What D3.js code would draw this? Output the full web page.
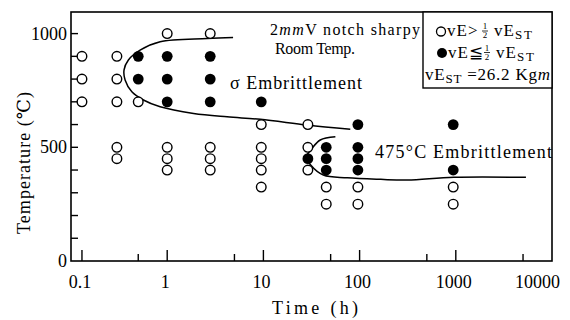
<!DOCTYPE html>
<html><head><meta charset="utf-8">
<script src="https://cdn.jsdelivr.net/npm/d3@7"></script>
<style>
body{margin:0;background:#fff}
svg text{font-family:'Liberation Serif','Times New Roman',Tinos,'DejaVu Serif',serif;fill:#000}
</style>
</head><body>
<svg id="c" width="570" height="320" font-family="Liberation Serif, Times New Roman, serif"></svg>
<script>
// ---- data ----
const xMajorTicks = [0.13, 1, 10, 100, 1000];
const xMinorTicks = [0.5, 5, 50, 500, 5000];
const xTickLabels = [
  {v:0.13, t:"0.1"}, {v:1, t:"1"}, {v:10, t:"10"},
  {v:100, t:"100"}, {v:1000, t:"1000"}, {v:10000, t:"10000"}
];
const yTicks = [100,200,300,400,500,600,700,800,900,1000];
const yTickLabels = [0, 500, 1000];

// open circles: vE > 1/2 vEST   [time h, temperature C]
const openPoints = [
  [0.13,900],[0.13,800],[0.13,700],
  [0.3,900],[0.3,800],[0.3,700],[0.3,500],[0.3,450],
  [0.5,700],
  [1,1000],[1,500],[1,450],[1,400],
  [2.8,1000],[2.8,500],[2.8,450],[2.8,400],
  [9.5,600],[9.5,500],[9.5,450],[9.5,400],[9.5,325],
  [29,600],[29,500],[29,400],
  [45,325],[45,250],
  [96,325],[96,250],
  [940,325],[940,250]
];
// filled circles: vE <= 1/2 vEST
const filledPoints = [
  [0.5,900],[0.5,800],
  [1,900],[1,800],[1,700],
  [2.8,900],[2.8,800],[2.8,700],
  [9.5,700],
  [29,450],
  [45,500],[45,450],[45,400],
  [96,600],[96,500],[96,450],[96,400],
  [940,600],[940,400]
];
// sigma embrittlement boundary
const sigmaCurve = [
  [4.84,983],[2.61,978],[0.845,964],[0.523,927],[0.395,884],[0.356,840],
  [0.365,796],[0.429,744],[0.566,708],[0.845,678],[1.88,649],[4.19,634],
  [9.3,623],[28.5,598],[80,579]
];
// 475C embrittlement boundary
const curve475 = [
  [56,546],[39,532],[32,495],[28,457],[31,422],[42,378],[74.5,366],
  [166,359],[314,356],[953,368],[5360,368]
];

// ---- drawing ----
const svg = d3.select("#c");
const L = 71, R = 552, T = 12, B = 261;
const x = d3.scaleLog().domain([0.1, 10000]).range([L, R]);
const y = d3.scaleLinear().domain([0, 1095]).range([B, T]);

// frame
svg.append("rect").attr("x", L).attr("y", T).attr("width", R - L).attr("height", B - T)
  .attr("fill", "none").attr("stroke", "#000").attr("stroke-width", 1.6);

// x ticks (drawn upward into the plot)
svg.selectAll(".xmaj").data(xMajorTicks).enter().append("line")
  .attr("x1", d => x(d)).attr("x2", d => x(d)).attr("y1", B).attr("y2", B - 11)
  .attr("stroke", "#000").attr("stroke-width", 1.4);
svg.selectAll(".xmin").data(xMinorTicks).enter().append("line")
  .attr("x1", d => x(d)).attr("x2", d => x(d)).attr("y1", B).attr("y2", B - 7)
  .attr("stroke", "#000").attr("stroke-width", 1.4);
svg.selectAll(".xl").data(xTickLabels).enter().append("text")
  .attr("x", d => d.v === 10000 ? x(d.v) + 8 : x(d.v) - 2)
  .attr("y", 288).attr("font-size", 18)
  .attr("text-anchor", d => d.v === 10000 ? "end" : "middle")
  .text(d => d.t);

// y ticks (inward)
svg.selectAll(".yt").data(yTicks).enter().append("line")
  .attr("x1", L).attr("x2", L + 7).attr("y1", d => y(d)).attr("y2", d => y(d))
  .attr("stroke", "#000").attr("stroke-width", 1.4);
svg.selectAll(".yl").data(yTickLabels).enter().append("text")
  .attr("x", 67).attr("y", d => y(d) + 6).attr("font-size", 18)
  .attr("text-anchor", "end").text(d => d);

// axis titles
svg.append("text").attr("transform", `translate(30,163) rotate(-90)`)
  .attr("text-anchor", "middle").attr("font-size", 18)
  .attr("textLength", 142).attr("lengthAdjust", "spacing")
  .text("Temperature (℃)");
svg.append("text").attr("x", 272).attr("y", 314).attr("font-size", 18)
  .attr("textLength", 86).attr("lengthAdjust", "spacing")
  .text("Time (h)");

// curves
const line = d3.line().x(d => x(d[0])).y(d => y(d[1])).curve(d3.curveCatmullRom.alpha(0.5));
[sigmaCurve, curve475].forEach(c => {
  svg.append("path").attr("d", line(c)).attr("fill", "none")
    .attr("stroke", "#000").attr("stroke-width", 1.5);
});

// points
svg.selectAll(".op").data(openPoints).enter().append("circle")
  .attr("cx", d => x(d[0])).attr("cy", d => y(d[1])).attr("r", 4.8)
  .attr("fill", "#fff").attr("stroke", "#000").attr("stroke-width", 1.4);
svg.selectAll(".fp").data(filledPoints).enter().append("circle")
  .attr("cx", d => x(d[0])).attr("cy", d => y(d[1])).attr("r", 5.4)
  .attr("fill", "#000");

// annotations
const t1 = svg.append("text").attr("x", 270).attr("y", 35).attr("font-size", 16)
  .attr("textLength", 150).attr("lengthAdjust", "spacing");
t1.append("tspan").text("2");
t1.append("tspan").attr("font-style", "italic").text("mm");
t1.append("tspan").text("V notch sharpy");
svg.append("text").attr("x", 275).attr("y", 54).attr("font-size", 16)
  .attr("textLength", 80).attr("lengthAdjust", "spacing").text("Room Temp.");
svg.append("text").attr("x", 230).attr("y", 89).attr("font-size", 18)
  .attr("textLength", 132).attr("lengthAdjust", "spacing").text("σ Embrittlement");
svg.append("text").attr("x", 375).attr("y", 158).attr("font-size", 18)
  .attr("textLength", 177).attr("lengthAdjust", "spacing").text("475°C Embrittlement");

// legend box
const LB = 423;
svg.append("rect").attr("x", LB).attr("y", T).attr("width", R - LB).attr("height", 88 - T)
  .attr("fill", "#fff").attr("stroke", "#000").attr("stroke-width", 1.4);

function frac(xp, yb) {
  svg.append("text").attr("x", xp).attr("y", yb - 7).attr("font-size", 9).attr("text-anchor", "middle").text("1");
  svg.append("line").attr("x1", xp - 3).attr("x2", xp + 3).attr("y1", yb - 5).attr("y2", yb - 5)
    .attr("stroke", "#000").attr("stroke-width", 0.8);
  svg.append("text").attr("x", xp).attr("y", yb + 2).attr("font-size", 9).attr("text-anchor", "middle").text("2");
}
function vEst(xp, yb) {
  const t = svg.append("text").attr("x", xp).attr("y", yb).attr("font-size", 17);
  t.append("tspan").attr("letter-spacing", 1).text("vE");
  t.append("tspan").attr("font-size", 13).attr("letter-spacing", 2).attr("dy", 3).text("ST");
  return t;
}
// line 1
svg.append("circle").attr("cx", 441).attr("cy", 31.5).attr("r", 4.5)
  .attr("fill", "#fff").attr("stroke", "#000").attr("stroke-width", 1.3);
svg.append("text").attr("x", 447).attr("y", 36).attr("font-size", 17)
  .attr("letter-spacing", 1).text("vE>");
frac(485, 36);
vEst(494, 36);
// line 2
svg.append("circle").attr("cx", 442).attr("cy", 53).attr("r", 5).attr("fill", "#000");
svg.append("text").attr("x", 448).attr("y", 57.5).attr("font-size", 17)
  .attr("letter-spacing", 1).text("vE≦");
frac(487, 57.5);
vEst(496, 57.5);
// line 3
const t3 = svg.append("text").attr("x", 425).attr("y", 80).attr("font-size", 17)
  .attr("textLength", 125).attr("lengthAdjust", "spacing");
t3.append("tspan").text("vE");
t3.append("tspan").attr("font-size", 13).attr("dy", 3).text("ST");
t3.append("tspan").attr("dy", -3).text(" =26.2 Kg");
t3.append("tspan").attr("font-style", "italic").text("m");
</script>
</body></html>
